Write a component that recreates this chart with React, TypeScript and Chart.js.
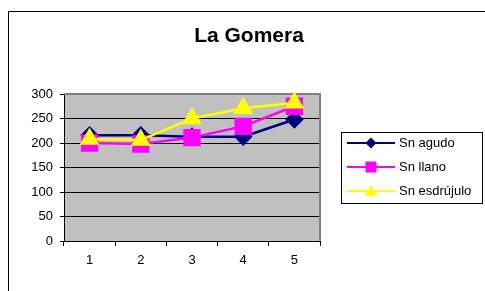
import React, { useEffect, useRef } from "react";
import { Chart, registerables } from "chart.js";

Chart.register(...registerables);

const categories = ["1", "2", "3", "4", "5"];
const snAgudo = [216, 216, 213, 213, 248];
const snLlano = [200, 198, 211, 234, 275];
const snEsdrujulo = [208, 206, 250, 271, 282];
const seriesNames = ["Sn agudo", "Sn llano", "Sn esdrújulo"];
const titleText = "La Gomera";

const FONT = "'Liberation Sans', Arial, sans-serif";

const decorPlugin = {
  id: "decor",
  beforeDraw(chart: any) {
    const { ctx, chartArea } = chart;
    ctx.save();
    ctx.fillStyle = "#ffffff";
    ctx.fillRect(0, 0, chart.width, chart.height);
    ctx.strokeStyle = "#000000";
    ctx.lineWidth = 1;
    ctx.beginPath();
    ctx.moveTo(8.5, chart.height);
    ctx.lineTo(8.5, 11.5);
    ctx.lineTo(chart.width, 11.5);
    ctx.stroke();
    ctx.fillStyle = "#c0c0c0";
    ctx.fillRect(chartArea.left, chartArea.top, chartArea.right - chartArea.left, chartArea.bottom - chartArea.top);
    ctx.restore();
  },
  beforeDatasetsDraw(chart: any) {
    const { ctx, chartArea } = chart;
    ctx.save();
    ctx.strokeStyle = "#808080";
    ctx.lineWidth = 2;
    ctx.beginPath();
    ctx.moveTo(chartArea.left, chartArea.top);
    ctx.lineTo(chartArea.right, chartArea.top);
    ctx.lineTo(chartArea.right, chartArea.bottom);
    ctx.stroke();
    ctx.restore();
  },
  afterDraw(chart: any) {
    const { ctx } = chart;
    ctx.save();
    ctx.fillStyle = "#000000";
    ctx.font = `bold 21px ${FONT}`;
    ctx.textAlign = "center";
    ctx.textBaseline = "middle";
    ctx.fillText(titleText, 249, 36);
    const bx = 341.5, by = 132.5, bw = 141, bh = 71;
    ctx.strokeStyle = "#000000";
    ctx.lineWidth = 1;
    ctx.strokeRect(bx, by, bw, bh);
    const ys = [143, 167, 191];
    chart.data.datasets.forEach((ds: any, i: number) => {
      const y = ys[i];
      ctx.strokeStyle = ds.borderColor;
      ctx.lineWidth = 2;
      ctx.beginPath();
      ctx.moveTo(347, y);
      ctx.lineTo(395, y);
      ctx.stroke();
      ctx.fillStyle = ds.pointBackgroundColor;
      const cx = 371;
      ctx.beginPath();
      if (ds.pointStyle === "rectRot") {
        const r = 5.5;
        ctx.moveTo(cx, y - r);
        ctx.lineTo(cx + r, y);
        ctx.lineTo(cx, y + r);
        ctx.lineTo(cx - r, y);
        ctx.closePath();
      } else if (ds.pointStyle === "rect") {
        ctx.rect(cx - 5.5, y - 5.5, 11, 11);
      } else {
        ctx.moveTo(cx, y - 6);
        ctx.lineTo(cx + 6, y + 5);
        ctx.lineTo(cx - 6, y + 5);
        ctx.closePath();
      }
      ctx.fill();
      ctx.fillStyle = "#000000";
      ctx.font = `13px ${FONT}`;
      ctx.textAlign = "left";
      ctx.textBaseline = "middle";
      ctx.fillText(ds.label, 399, y);
    });
    ctx.restore();
  },
};

export default function App() {
  const ref = useRef<HTMLCanvasElement | null>(null);
  useEffect(() => {
    if (!ref.current) return;
    const chart = new Chart(ref.current, {
      type: "line",
      data: {
        labels: categories,
        datasets: [
          {
            label: seriesNames[0],
            data: snAgudo,
            borderColor: "#000080",
            backgroundColor: "#000080",
            pointBackgroundColor: "#000080",
            pointBorderColor: "#000080",
            pointStyle: "rectRot",
            pointRadius: 7.5,
            borderWidth: 2.5,
            order: 2,
            clip: false,
          },
          {
            label: seriesNames[1],
            data: snLlano,
            borderColor: "#ff00ff",
            backgroundColor: "#ff00ff",
            pointBackgroundColor: "#ff00ff",
            pointBorderColor: "#ff00ff",
            pointStyle: "rect",
            pointRadius: 10.5,
            borderWidth: 2.5,
            order: 1,
            clip: false,
          },
          {
            label: seriesNames[2],
            data: snEsdrujulo,
            borderColor: "#ffff00",
            backgroundColor: "#ffff00",
            pointBackgroundColor: "#ffff00",
            pointBorderColor: "#ffff00",
            pointStyle: "triangle",
            pointRadius: 9,
            borderWidth: 2.5,
            order: 0,
            clip: false,
          },
        ],
      },
      options: {
        responsive: false,
        animation: false,
        layout: { padding: { left: 8, top: 94, right: 165, bottom: 0 } },
        plugins: {
          legend: { display: false },
          title: { display: false },
          tooltip: { enabled: false },
        },
        scales: {
          x: {
            offset: true,
            grid: {
              offset: true,
              drawOnChartArea: false,
              drawTicks: true,
              tickLength: 5,
              color: "#000000",
            },
            border: { color: "#000000", width: 1 },
            ticks: { color: "#000000", font: { family: FONT, size: 13 }, padding: 7 },
            afterFit: (s: any) => {
              s.height = 50;
            },
          },
          y: {
            min: 0,
            max: 300,
            ticks: { stepSize: 50, color: "#000000", font: { family: FONT, size: 13 }, padding: 7 },
            grid: { color: "#000000", tickLength: 4, drawTicks: true },
            border: { color: "#000000", width: 1 },
            afterFit: (s: any) => {
              s.width = 56;
            },
          },
        },
      },
      plugins: [decorPlugin],
    });
    return () => chart.destroy();
  }, []);
  return (
    <div style={{ position: "fixed", left: 0, top: 0, width: 485, height: 291, background: "#fff" }}>
      <canvas ref={ref} width={485} height={291} style={{ width: 485, height: 291 }} />
    </div>
  );
}
